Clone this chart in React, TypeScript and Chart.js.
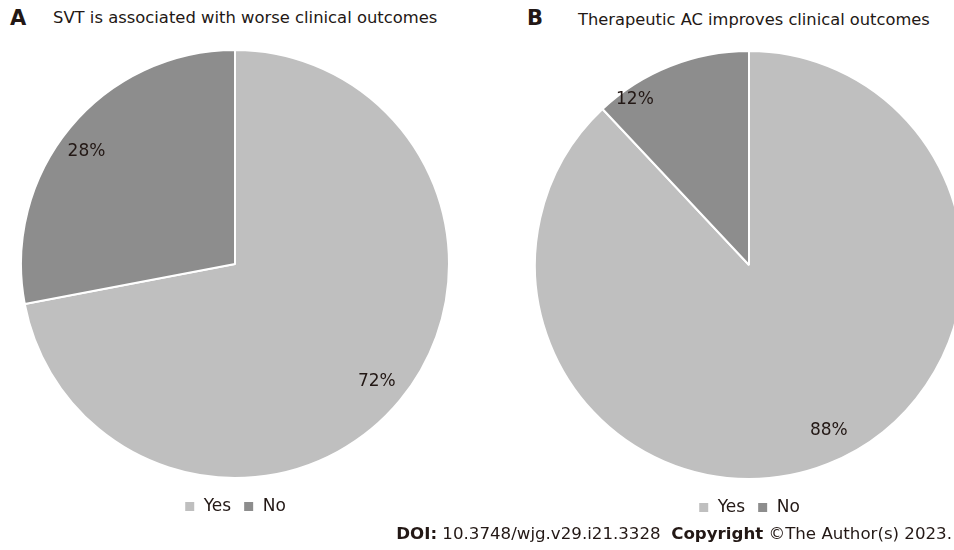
import React, { useEffect, useRef } from "react";
import { Chart, registerables } from "chart.js";

Chart.register(...registerables);

const categories = ["Yes", "No"];
const svtValues = [72, 28];
const acValues = [88, 12];
const titleA = "SVT is associated with worse clinical outcomes";
const titleB = "Therapeutic AC improves clinical outcomes";
const colors = ["#bfbfbf", "#8d8d8d"];
// label placement: fraction along slice angle, radius factor
const labelPlaceA = [[0.5, 0.86], [0.475, 0.87]];
const labelPlaceB = [[0.487, 0.86], [0.2, 0.94]];

const FONT = "'DejaVu Sans', sans-serif";

const labelPlugin = {
  id: "pctLabels",
  afterDatasetsDraw(chart: any, _args: any, opts: any) {
    const ctx = chart.ctx;
    const meta = chart.getDatasetMeta(0);
    const data = chart.data.datasets[0].data as number[];
    const place = opts.place as number[][];
    ctx.save();
    ctx.font = `17px ${FONT}`;
    ctx.fillStyle = "#231815";
    ctx.textAlign = "center";
    ctx.textBaseline = "middle";
    meta.data.forEach((arc: any, i: number) => {
      const p = arc.getProps(["x", "y", "startAngle", "endAngle", "outerRadius"], true);
      const [f, rf] = place[i];
      const a = p.startAngle + (p.endAngle - p.startAngle) * f;
      const r = p.outerRadius * rf;
      ctx.fillText(`${data[i]}%`, p.x + Math.cos(a) * r, p.y + Math.sin(a) * r);
    });
    ctx.restore();
  },
};

function PieChart({ values, place }: { values: number[]; place: number[][] }) {
  const ref = useRef<HTMLCanvasElement>(null);
  useEffect(() => {
    if (!ref.current) return;
    const chart = new Chart(ref.current, {
      type: "pie",
      data: {
        labels: categories,
        datasets: [
          {
            data: values,
            backgroundColor: colors,
            borderColor: "#ffffff",
            borderWidth: 2,
          },
        ],
      },
      options: {
        animation: false,
        responsive: false,
        layout: { padding: 0 },
        plugins: {
          tooltip: { enabled: false },
          legend: {
            position: "bottom",
            title: { display: true, text: "", font: { size: 5 }, padding: { top: 0, bottom: 1 } },
            labels: {
              boxWidth: 11,
              boxHeight: 11,
              padding: 12,
              color: "#231815",
              font: { family: "'DejaVu Sans', sans-serif", size: 17 },
            },
          },
          pctLabels: { place },
        } as any,
      },
      plugins: [labelPlugin],
    });
    return () => chart.destroy();
  }, []);
  return <canvas ref={ref} width={430} height={476} style={{ width: 430, height: 476 }} />;
}

export default function App() {
  return (
    <div
      style={{
        position: "absolute",
        left: 0,
        top: 0,
        width: 954,
        height: 550,
        overflow: "hidden",
        background: "#ffffff",
        fontFamily: FONT,
        color: "#231815",
      }}
    >
      <div style={{ position: "absolute", left: 10, top: 6, fontSize: 21, fontWeight: "bold" }}>A</div>
      <div style={{ position: "absolute", left: 53, top: 8, fontSize: 16.4 }}>{titleA}</div>
      <div style={{ position: "absolute", left: 527, top: 6, fontSize: 21, fontWeight: "bold" }}>B</div>
      <div style={{ position: "absolute", left: 578, top: 10, fontSize: 16.3 }}>{titleB}</div>
      <div style={{ position: "absolute", left: 20, top: 49 }}>
        <PieChart values={svtValues} place={labelPlaceA} />
      </div>
      <div style={{ position: "absolute", left: 534, top: 50 }}>
        <PieChart values={acValues} place={labelPlaceB} />
      </div>
      <div
        style={{
          position: "absolute",
          right: 2,
          top: 524,
          fontSize: 16.65,
          whiteSpace: "nowrap",
        }}
      >
        <b>DOI:</b> 10.3748/wjg.v29.i21.3328&nbsp;&nbsp;<b>Copyright</b> ©The Author(s) 2023.
      </div>
    </div>
  );
}
